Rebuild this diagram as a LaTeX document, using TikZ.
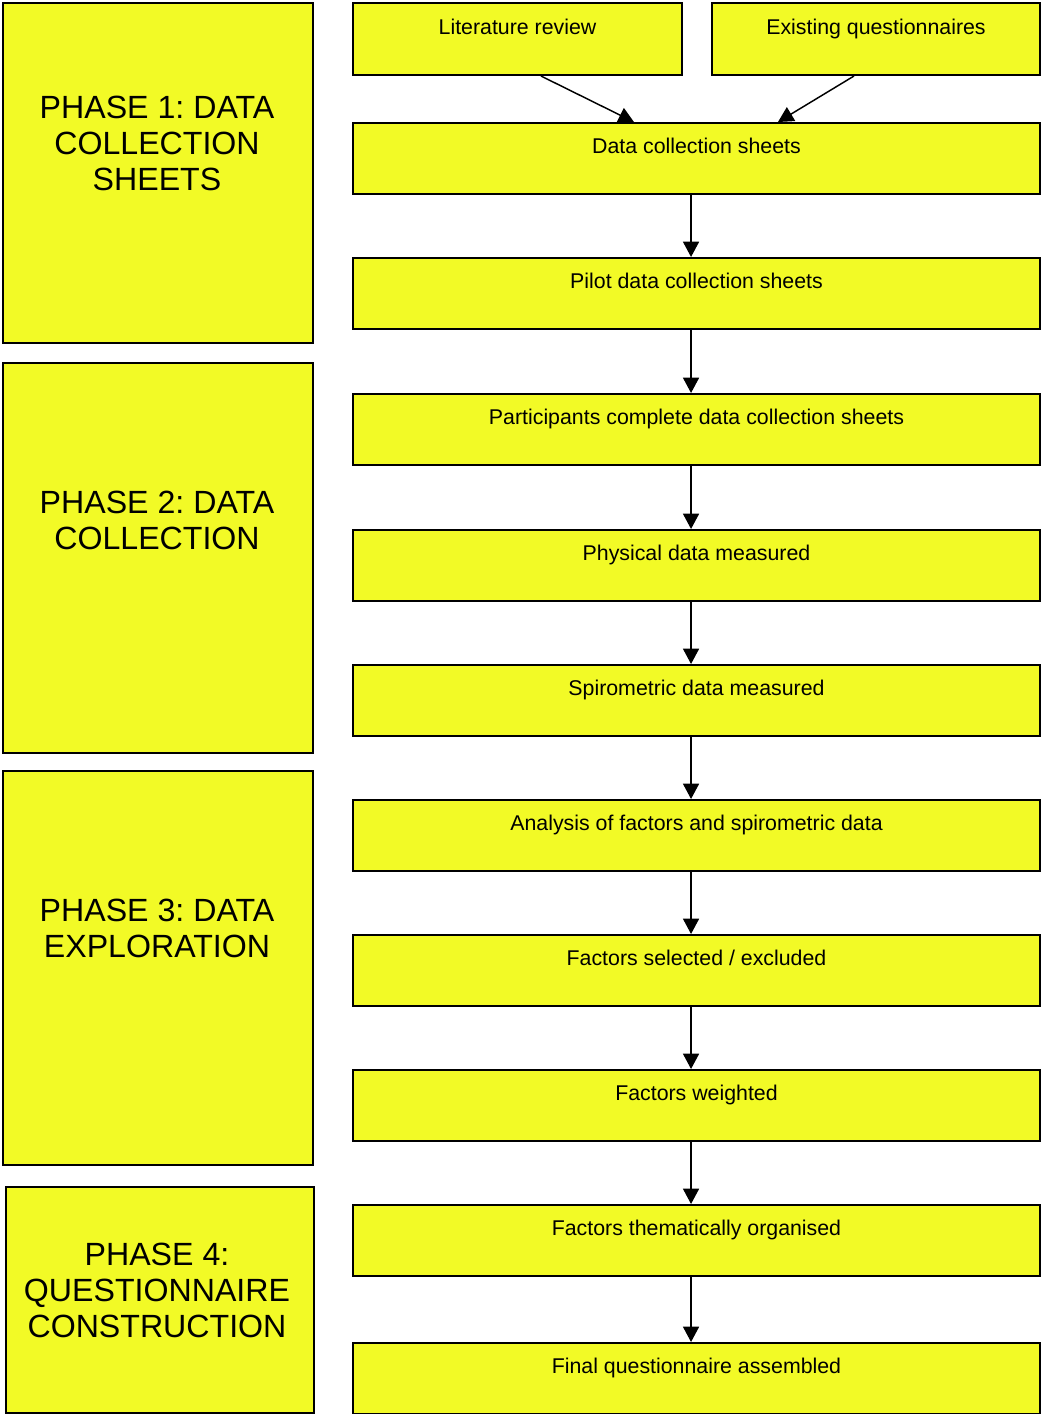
\documentclass[tikz,border=0pt]{standalone}
\usepackage{fontspec}
\setmainfont{Liberation Sans}
\usetikzlibrary{arrows.meta,positioning}

\definecolor{phasey}{RGB}{242,250,38}
\frenchspacing

\begin{document}
\begin{tikzpicture}[
  x=0.75pt,y=-0.75pt,
  >={Triangle[length=11.5pt,width=12pt]},
  box/.style={draw=black,fill=phasey,line width=1.5pt,anchor=north west,
    minimum width=515.25pt,minimum height=53.25pt,inner sep=0pt,
    text height=23pt,text depth=30.25pt,font=\fontsize{16}{18}\selectfont},
  srcbox/.style={box,minimum width=246.75pt,minimum height=54pt,
    text height=23.5pt,text depth=30.5pt},
  phase/.style={draw=black,fill=phasey,line width=1.5pt,anchor=north west,
    minimum width=232.5pt,inner sep=0pt},
  phaselab/.style={align=center,font=\fontsize{24.1}{27}\selectfont},
  flow/.style={->,line width=1.1pt}]

  \useasboundingbox (0,0) rectangle (1040,1414);

  % ---- phases ----
  \node[phase,minimum height=255pt] (ph1) at (2,2) {};
  \node[phase,minimum height=292.5pt] (ph2) at (2,362) {};
  \node[phase,minimum height=295.5pt] (ph3) at (2,770) {};
  \node[phase,minimum height=169.5pt,minimum width=231pt] (ph4) at (4.5,1186) {};

  \node[phaselab] (ph1lab) at (157,143) {PHASE 1: DATA\\COLLECTION\\SHEETS};
  \node[phaselab] (ph2lab) at (157,520) {PHASE 2: DATA\\COLLECTION};
  \node[phaselab] (ph3lab) at (157,928) {PHASE 3: DATA\\EXPLORATION};
  \node[phaselab] (ph4lab) at (157,1290) {PHASE 4:\\QUESTIONNAIRE\\CONSTRUCTION};

  % ---- sources ----
  \node[srcbox] (lit) at (352,2) {Literature review};
  \node[srcbox,minimum width=246pt] (exq) at (711,2) {Existing questionnaires};

  % ---- steps ----
  \node[box] (dcs) at (352,122) {Data collection sheets};
  \node[box] (pilot) at (352,257) {Pilot data collection sheets};
  \node[box] (part) at (352,393) {Participants complete data collection sheets};
  \node[box] (phys) at (352,529) {Physical data measured};
  \node[box] (spiro) at (352,664) {Spirometric data measured};
  \node[box] (anal) at (352,799) {Analysis of factors and spirometric data};
  \node[box] (sel) at (352,934) {Factors selected / excluded};
  \node[box] (wgt) at (352,1069) {Factors weighted};
  \node[box] (theme) at (352,1204) {Factors thematically organised};
  \node[box] (final) at (352,1342) {Final questionnaire assembled};

  % ---- flows ----
  % sources feed the sheets
  \draw[flow] ([xshift=17.6pt]lit.south) -- ([xshift=-46.9pt]dcs.north);
  \draw[flow] ([xshift=-16.5pt]exq.south) -- ([xshift=61.1pt]dcs.north);
  % main chain
  \draw[flow] ([xshift=-4.1pt]dcs.south) -- ([xshift=-4.1pt]pilot.north);
  \draw[flow] ([xshift=-4.1pt]pilot.south) -- ([xshift=-4.1pt]part.north);
  \draw[flow] ([xshift=-4.1pt]part.south) -- ([xshift=-4.1pt]phys.north);
  \draw[flow] ([xshift=-4.1pt]phys.south) -- ([xshift=-4.1pt]spiro.north);
  \draw[flow] ([xshift=-4.1pt]spiro.south) -- ([xshift=-4.1pt]anal.north);
  \draw[flow] ([xshift=-4.1pt]anal.south) -- ([xshift=-4.1pt]sel.north);
  \draw[flow] ([xshift=-4.1pt]sel.south) -- ([xshift=-4.1pt]wgt.north);
  \draw[flow] ([xshift=-4.1pt]wgt.south) -- ([xshift=-4.1pt]theme.north);
  \draw[flow] ([xshift=-4.1pt]theme.south) -- ([xshift=-4.1pt]final.north);
\end{tikzpicture}
\end{document}
